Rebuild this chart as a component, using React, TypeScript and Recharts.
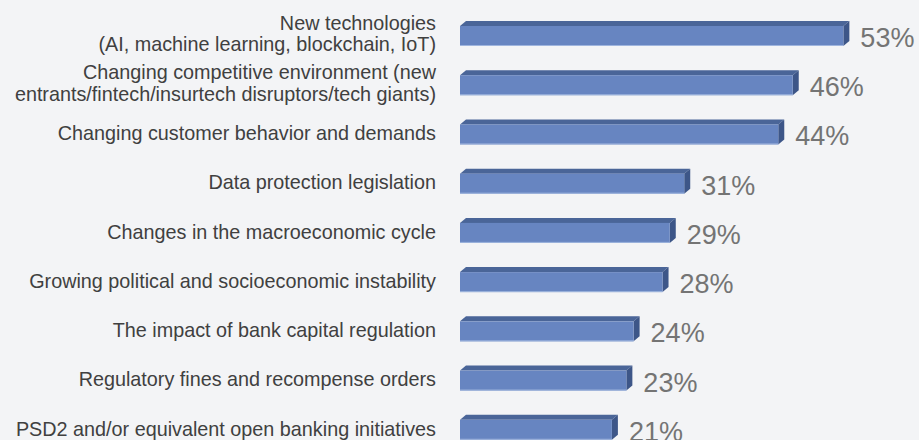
import React from 'react';
import { BarChart, Bar, XAxis, YAxis, LabelList } from 'recharts';

const categories = [
  'New technologies|(AI, machine learning, blockchain, IoT)',
  'Changing competitive environment (new|entrants/fintech/insurtech disruptors/tech giants)',
  'Changing customer behavior and demands',
  'Data protection legislation',
  'Changes in the macroeconomic cycle',
  'Growing political and socioeconomic instability',
  'The impact of bank capital regulation',
  'Regulatory fines and recompense orders',
  'PSD2 and/or equivalent open banking initiatives',
];
const shares = [53, 46, 44, 31, 29, 28, 24, 23, 21];

const data = categories.map((name, i) => ({ name, value: shares[i] }));

const BG = '#f3f4f6';
const FRONT = '#6785c1';
const TOP = '#4a6598';
const SIDE = '#3d5688';
const DX = 6;
const DY = 5;
const FONT = "'Liberation Sans', Arial, sans-serif";

// 3D-looking bar: front face plus top and right faces
function Bar3D(props: any) {
  const { x, y, width, height } = props;
  if (!width || width <= 0) return null;
  const r = x + width;
  return (
    <g>
      <polygon
        points={`${x},${y} ${x + DX},${y - DY} ${r + DX},${y - DY} ${r},${y}`}
        fill={TOP}
      />
      <polygon
        points={`${r},${y} ${r + DX},${y - DY} ${r + DX},${y + height - DY} ${r},${y + height}`}
        fill={SIDE}
      />
      <rect x={x} y={y} width={width} height={height} fill={FRONT} />
      <line x1={x} x2={r} y1={y + height - 0.5} y2={y + height - 0.5} stroke="#9fb5de" strokeWidth={1} />
    </g>
  );
}

function CategoryTick(props: any) {
  const { x, y, payload } = props;
  const lines = String(payload.value).split('|');
  const lh = 21.5;
  const start = y - ((lines.length - 1) * lh) / 2 - (lines.length > 1 ? 2 : 1);
  return (
    <text x={x} y={start} textAnchor="end" fill="#404040" fontSize={19.8} fontFamily={FONT}>
      {lines.map((l, i) => (
        <tspan key={i} x={x} y={start + i * lh} dy="0.36em">
          {l}
        </tspan>
      ))}
    </text>
  );
}

function ValueLabel(props: any) {
  const { x, y, width, height, value } = props;
  return (
    <text x={x + width + 17} y={y + height / 2 + 11} fill="#747474" fontSize={27} fontFamily={FONT}>
      {`${value}%`}
    </text>
  );
}

export default function App() {
  return (
    <div
      style={{
        position: 'fixed',
        left: 0,
        top: 0,
        width: 919,
        height: 440,
        overflow: 'hidden',
        background: BG,
      }}
    >
      <BarChart
        width={919}
        height={454}
        data={data}
        layout="vertical"
        margin={{ top: 11, right: 25, bottom: 0, left: 0 }}
        barSize={20}
      >
        <XAxis type="number" domain={[0, 60]} hide />
        <YAxis
          type="category"
          dataKey="name"
          width={460}
          axisLine={false}
          tickLine={false}
          tickSize={0}
          tickMargin={24}
          interval={0}
          tick={<CategoryTick />}
        />
        <Bar dataKey="value" shape={<Bar3D />} isAnimationActive={false}>
          <LabelList dataKey="value" content={<ValueLabel />} />
        </Bar>
      </BarChart>
    </div>
  );
}
